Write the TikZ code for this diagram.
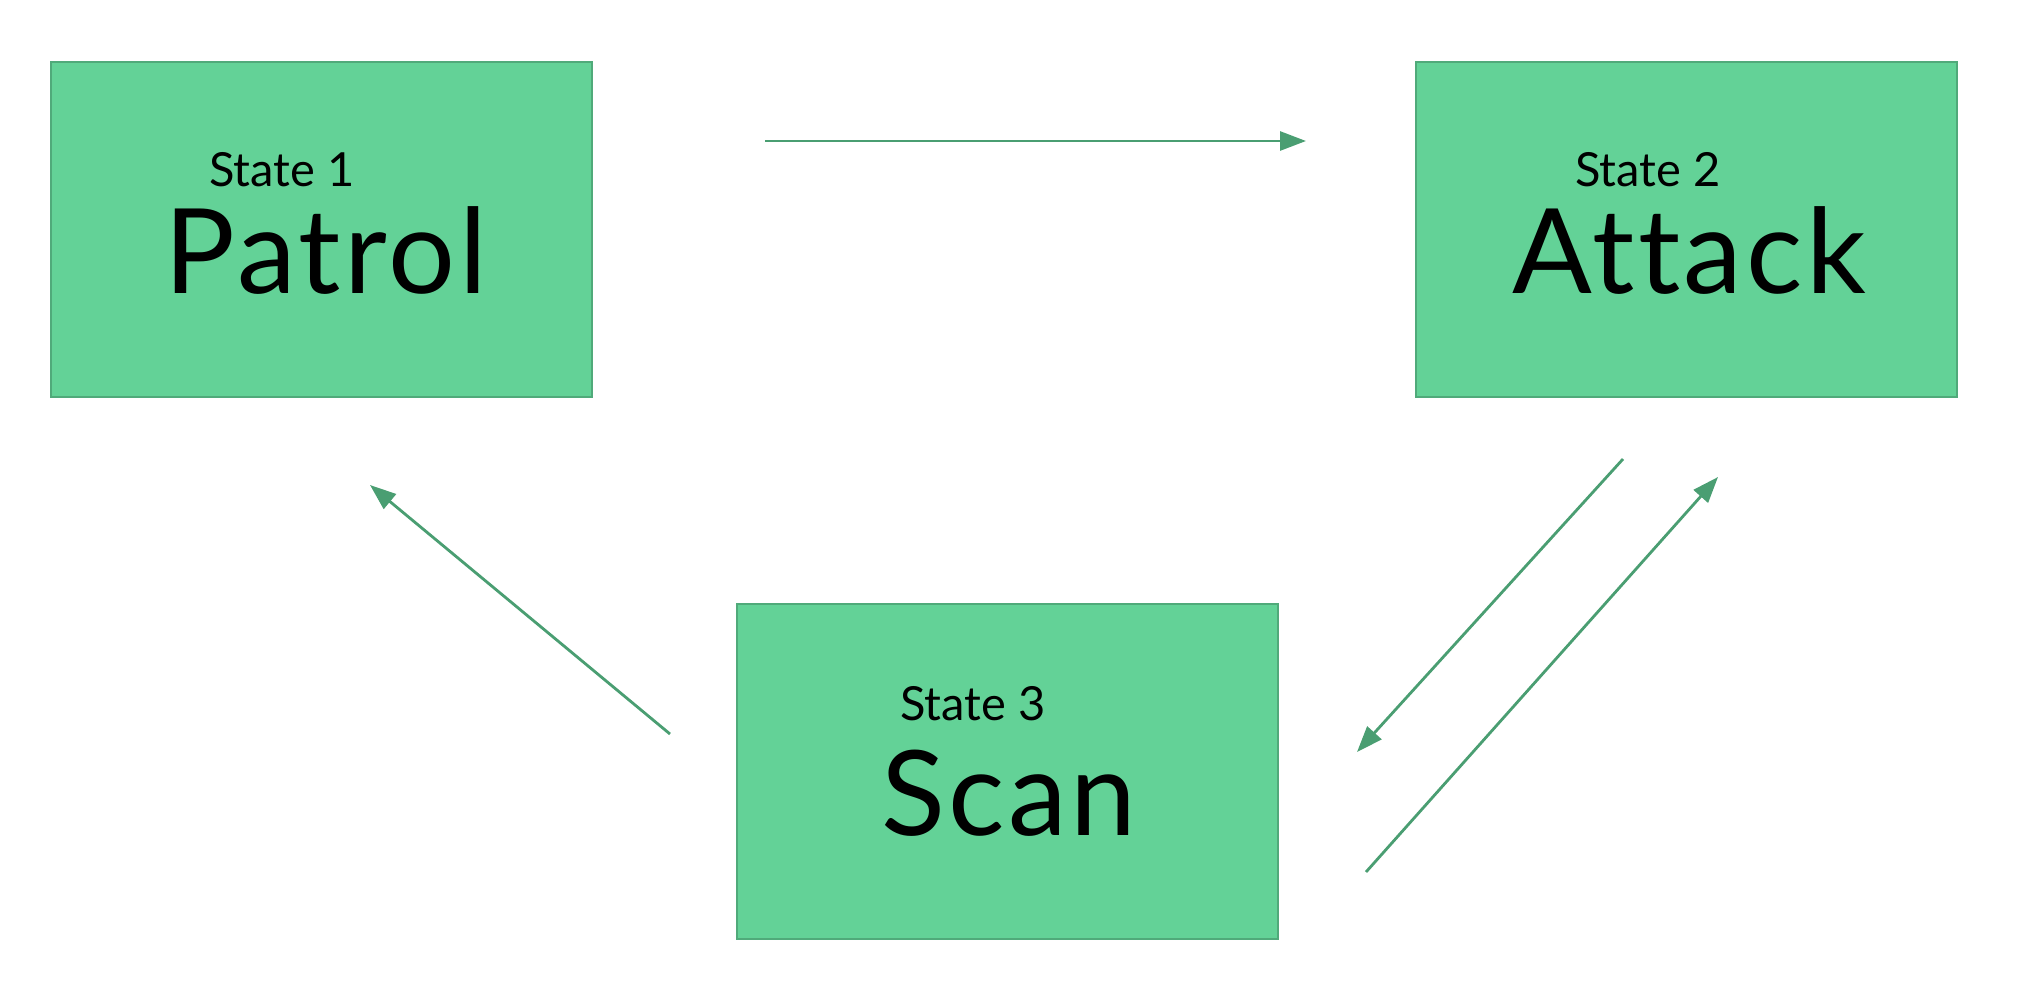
\documentclass[tikz,border=0pt]{standalone}
\usepackage{fontspec}
\setmainfont{Lato}
\newfontfamily\namefont[LetterSpace=3,Ligatures=NoCommon]{Lato}
\usetikzlibrary{arrows.meta}
\definecolor{boxfill}{HTML}{63D297}
\definecolor{boxline}{HTML}{50AA7A}
\definecolor{arrowgreen}{HTML}{4A9E72}
\begin{document}
\begin{tikzpicture}[x=1pt,y=-1pt,
	statebox/.style={draw=boxline, line width=2.2pt, fill=boxfill, minimum width=541pt, minimum height=335pt, inner sep=0pt},
	bigname/.style={anchor=base, font=\namefont\fontsize{118}{120}\selectfont, inner sep=0pt},
	statenum/.style={anchor=base, font=\fontsize{47}{50}\selectfont, inner sep=0pt},
	trans/.style={draw=arrowgreen, line width=2.8pt, -{Triangle[length=26pt,width=19pt]}}]
	\useasboundingbox (0,0) rectangle (2036,983);
	\node [statebox] (patrol) at (321.5,229.5) {};
	\node [statebox] (attack) at (1686.5,229.5) {};
	\node [statebox] (scan) at (1007.5,771.5) {};
	\node [bigname] (patroltxt) at (326,293) {Patrol};
	\node [bigname] (attacktxt) at (1689,293) {Attack};
	\node [bigname] (scantxt) at (1009,835) {Scan};
	\node [statenum] (patrolnum) at (282,186) {State 1};
	\node [statenum] (attacknum) at (1648,186) {State 2};
	\node [statenum] (scannum) at (973,720) {State 3};
	\coordinate (pa1) at (765,141);
	\coordinate (pa2) at (1306,141);
	\coordinate (sp1) at (670,734);
	\coordinate (sp2) at (370,485);
	\coordinate (as1) at (1623,459);
	\coordinate (as2) at (1357,752);
	\coordinate (sa1) at (1366,872);
	\coordinate (sa2) at (1718,477);
	\draw [trans] (pa1) -- (pa2);
	\draw [trans] (sp1) -- (sp2);
	\draw [trans] (as1) -- (as2);
	\draw [trans] (sa1) -- (sa2);
\end{tikzpicture}
\end{document}
